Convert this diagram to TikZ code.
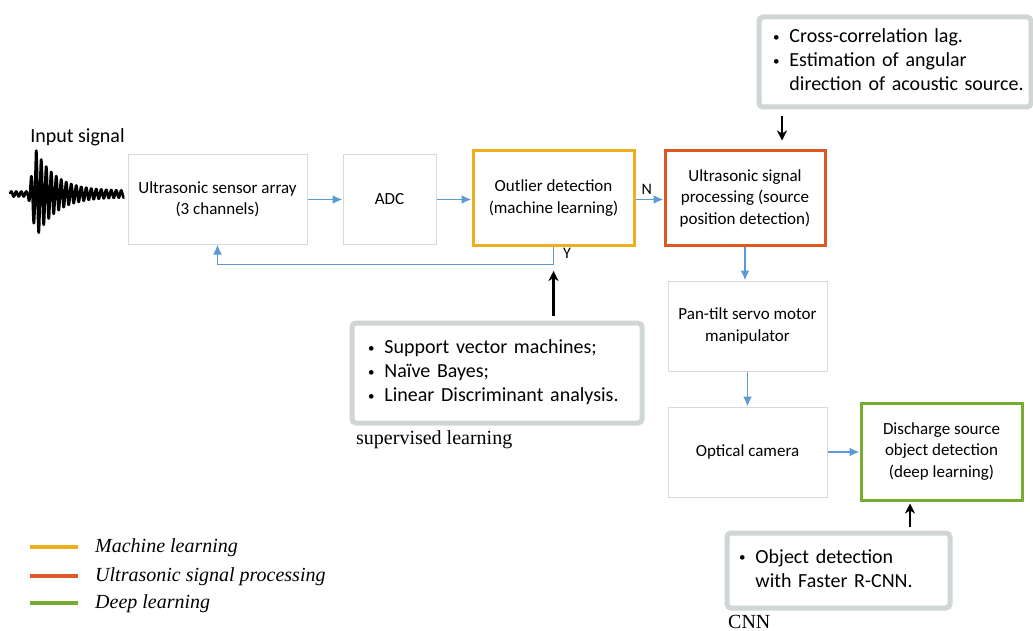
\documentclass[tikz,border=0pt]{standalone}
\usepackage{fontspec}
\setmainfont{Carlito}
\newfontfamily\serifface{Liberation Serif}
\usetikzlibrary{arrows.meta}

\definecolor{boxgray}{RGB}{217,217,217}
\definecolor{notegray}{RGB}{208,213,213}
\definecolor{mlorange}{RGB}{237,177,32}
\definecolor{uspred}{RGB}{222,88,36}
\definecolor{dlgreen}{RGB}{119,172,48}
\definecolor{flowblue}{RGB}{91,155,213}

% small list bullet used in the note boxes
\newcommand{\notebullet}{\raisebox{1.5pt}{\fontsize{13}{13}\selectfont\textbullet}}

\begin{document}
\begin{tikzpicture}[x=1pt,y=-1pt,
  block/.style={draw=boxgray, line width=1pt, fill=white, align=center,
    inner sep=0pt, font=\fontsize{17}{21.5}\selectfont},
  mlblock/.style={block, draw=mlorange, line width=3pt},
  uspblock/.style={block, draw=uspred, line width=3pt},
  dlblock/.style={block, draw=dlgreen, line width=3pt},
  note/.style={draw=notegray, line width=5pt, rounded corners=4pt, fill=white,
    inner ysep=0pt, align=left, font=\fontsize{20}{24}\selectfont},
  flow/.style={flowblue, line width=1.8pt, -{Latex[length=10pt,width=9pt]}},
  hint/.style={black, line width=2.2pt, -{Stealth[length=10pt,width=10pt,inset=3pt]}},
  legendline/.style={line width=3.5pt},
  legendtext/.style={anchor=west, inner sep=0pt, font=\serifface\itshape\fontsize{20}{22}\selectfont},
  caption/.style={anchor=west, inner sep=0pt, font=\serifface\fontsize{20}{22}\selectfont},
  declare function={env(\t)=(\t<28) ? 2.5 : ((\t<36) ? 2.5+37*(\t-28)/8 : 3+37*exp(-(\t-38)/20));}
]
\useasboundingbox (0,0) rectangle (1033,631);

% input waveform
\node[inner sep=0pt, font=\fontsize{20}{22}\selectfont] (insig) at (77.5,137) {Input signal};
\draw[line width=2.6pt, line join=round] plot[domain=10:124, samples=600]
  (\x, {194 - env(\x)*sin(\x*72)});

% processing chain
\node[block, minimum width=179, minimum height=89] (sensor) at (217.5,199.5)
  {Ultrasonic sensor array\\(3 channels)};
\node[block, minimum width=93, minimum height=89] (adc) at (389.5,199.5) {ADC};
\node[mlblock, minimum width=161, minimum height=95] (outlier) at (553.5,198)
  {Outlier detection\\(machine learning)};
\node[uspblock, minimum width=160, minimum height=94] (usp) at (745,198)
  {Ultrasonic signal\\processing (source\\position detection)};
\node[block, minimum width=159, minimum height=90] (pan) at (747.5,326)
  {Pan-tilt servo motor\\manipulator};
\node[block, minimum width=159, minimum height=90] (cam) at (747.5,452)
  {Optical camera};
\node[dlblock, minimum width=161, minimum height=97] (dis) at (941.5,451.5)
  {Discharge source\\object detection\\(deep learning)};

\draw[flow] (sensor.east |- 0,199.5) -- (adc.west |- 0,199.5);
\draw[flow] (adc.east |- 0,199.5) -- (outlier.west |- 0,199.5);
\draw[flow] (outlier.east |- 0,199.5) -- node[above, black, inner sep=4pt, pos=0.4,
  font=\fontsize{16}{18}\selectfont] (nlab) {N} (usp.west |- 0,199.5);
\draw[flow] (usp.south) -- (pan.north -| usp.south);
\draw[flow] (pan.south) -- (cam.north);
\draw[flow] (cam.east) -- (dis.west |- cam.east);
\draw[flow] (outlier.south) -- ++(0,17.5) -| (sensor.south);
\node[font=\fontsize{16}{18}\selectfont, inner sep=0pt] (ylab) at (567,253) {Y};

% method notes
\node[note, inner xsep=14pt, text width=244, minimum height=90] (usnote) at (895,62)
  {\begin{tabular}{@{}l@{\hspace{10pt}}l@{}}
   \notebullet & Cross-correlation lag.\\
   \notebullet & Estimation of angular\\
               & direction of acoustic source.
   \end{tabular}};
\node[note, inner xsep=16pt, text width=258, minimum height=100] (mlnote) at (497,373)
  {\begin{tabular}{@{}l@{\hspace{10pt}}l@{}}
   \notebullet & Support vector machines;\\
   \notebullet & Naïve Bayes;\\
   \notebullet & Linear Discriminant analysis.
   \end{tabular}};
\node[note, inner xsep=12pt, text width=199, minimum height=75] (dlnote) at (838.5,570.5)
  {\begin{tabular}{@{}l@{\hspace{10pt}}l@{}}
   \notebullet & Object detection\\
               & with Faster R-CNN.
   \end{tabular}};

\coordinate (usx) at (782,0);
\coordinate (mlx) at (553.5,0);
\coordinate (dlx) at (910,0);
\draw[hint] (usnote.south -| usx) ++(0,7) -- ([yshift=9pt]usp.north -| usx);
\draw[hint] (mlnote.north -| mlx) ++(0,-5) -- (mlx |- 0,271);
\draw[hint] (dlnote.north -| dlx) ++(0,-4) -- ([yshift=-2pt]dis.south -| dlx);

\node[caption] (mlcap) at (356,440) {supervised learning};
\node[caption] (dlcap) at (728,622) {CNN};

% legend
\draw[legendline, mlorange] (30,547) -- (78,547);
\draw[legendline, uspred] (30,576) -- (78,576);
\draw[legendline, dlgreen] (30,603) -- (78,603);
\node[legendtext] (lg1) at (95,548) {Machine learning};
\node[legendtext] (lg2) at (95,577) {Ultrasonic signal processing};
\node[legendtext] (lg3) at (95,604) {Deep learning};
\end{tikzpicture}
\end{document}
